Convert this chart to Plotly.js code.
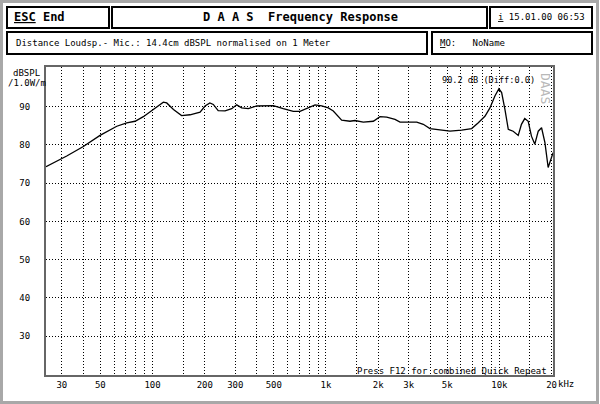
<!DOCTYPE html>
<html>
<head>
<meta charset="utf-8">
<script src="https://cdn.plot.ly/plotly-3.0.1.min.js"></script>
<style>
html,body{margin:0;padding:0;background:#fff;}
#chart{width:600px;height:404px;}
</style>
</head>
<body>
<div id="chart"></div>
<script>
// ---- data ----
const freqHz = [24.3, 32, 39.9, 49.8, 62.2, 71, 79.3, 88.5, 101, 115.4, 120.7, 132, 147, 164.5, 188, 200.7, 214, 224, 239, 262, 286, 305.7, 326.5, 356.6, 398, 455, 497, 567, 648, 708, 774, 865, 945, 1031, 1102, 1178, 1231, 1375, 1469, 1641, 1875, 2049, 2240, 2500, 2673, 3337, 3640, 3975, 4540, 5187, 6056, 6918, 7557, 8250, 8820, 9420, 9935, 10300, 10760, 11250, 12000, 12840, 13400, 14000, 14660, 15300, 16000, 16750, 17500, 18300, 19100, 20000, 20400];
const splDb = [74.3, 77.1, 79.6, 82.5, 84.9, 85.8, 86.2, 87.4, 89.3, 91.2, 91.0, 89.3, 87.7, 87.9, 88.6, 90.2, 91.0, 90.6, 89.0, 88.9, 89.5, 90.5, 89.7, 89.5, 90.2, 90.2, 90.3, 89.5, 88.8, 88.8, 89.5, 90.5, 90.2, 89.7, 88.9, 87.4, 86.5, 86.2, 86.4, 86.0, 86.2, 87.4, 87.3, 86.7, 86.0, 86.0, 85.4, 84.3, 83.9, 83.6, 83.9, 84.3, 85.8, 87.5, 89.7, 92.8, 94.7, 93.7, 89.3, 84.1, 83.6, 82.5, 85.4, 86.9, 86.2, 82.3, 80.2, 83.6, 84.5, 80.6, 74.1, 77.1, 78.0];
const xTickVals = [30,40,50,60,70,80,90,100,150,200,300,400,500,600,700,800,900,1000,1500,2000,3000,4000,5000,6000,7000,8000,9000,10000,15000,20000];
const xTickText = ['30','','50','','','','','100','','200','300','','500','','','','','1k','','2k','3k','','5k','','','','','10k','','20'];
const yTickVals = [30,40,50,60,70,80,90];
const yTickText = ['30','40','50','60','70','80','90'];

// ---- layout helpers (pixel -> paper) ----
const L = 46, T = 67, W = 507, H = 308;
const px = x => (x - L) / W;
const py = y => (T + H - y) / H;
const MONO = 'DejaVu Sans Mono, Liberation Mono, monospace';
const NB = '\u00A0';

function box(x0, y0, x1, y1) {
  return {type:'rect', xref:'paper', yref:'paper', x0:px(x0), x1:px(x1), y0:py(y1), y1:py(y0),
          line:{color:'#000', width:2}, fillcolor:'#fff', layer:'below'};
}
function txt(text, x, y, opt) {
  opt = opt || {};
  return Object.assign({text:text, xref:'paper', yref:'paper', x:px(x), y:py(y),
    xanchor:'left', yanchor:'middle', showarrow:false, borderpad:0,
    font:{family:MONO, size:9, color:'#000'}}, opt);
}

const shapes = [
  {type:'rect', xref:'paper', yref:'paper', x0:px(1.5), x1:px(597.5), y0:py(402.5), y1:py(1.5),
   line:{color:'#a8a8a8', width:3}, layer:'below'},
  box(7, 7, 109, 28),
  box(112, 7, 487, 28),
  box(490, 7, 592, 28),
  box(7, 32, 427, 54),
  box(432, 32, 592, 54)
];

const annotations = [
  txt('<b><u>ESC</u></b>' + NB + '<b>End</b>', 13, 17.5, {font:{family:MONO, size:12, color:'#000'}}),
  txt('<b>D A A S' + NB + NB + 'Frequency Response</b>', 300, 17.5, {xanchor:'center', font:{family:MONO, size:12, color:'#000'}}),
  txt('<u>i</u>' + NB + '15.01.00 06:53', 497, 17.5, {font:{family:MONO, size:9, color:'#000'}}),
  txt('Distance Loudsp.- Mic.: 14.4cm dBSPL normalised on 1 Meter', 15, 43),
  txt('<u>M</u>O:' + NB + NB + NB + 'NoName', 439, 43),
  txt('dBSPL', 12, 73),
  txt('/1.0W/m', 7, 83),
  txt('90.2 dB (Diff:0.0)', 441, 80, {font:{family:MONO, size:8.6, color:'#000'}}),
  txt('DAAS', 546, 88, {xanchor:'center', textangle:90, font:{family:MONO, size:13, color:'#b8b8b8'}}),
  txt('Press F12 for combined Quick Repeat', 356, 371, {font:{family:MONO, size:9, color:'#000'}}),
  txt('kHz', 556.5, 384, {font:{family:MONO, size:9, color:'#000'}})
];

const trace = {
  x: freqHz, y: splDb, type:'scatter', mode:'lines',
  line:{color:'#000', width:1.3}, hoverinfo:'skip'
};

const layout = {
  width:600, height:404,
  margin:{l:L, r:600-L-W, t:T, b:404-T-H, pad:0},
  paper_bgcolor:'#fff', plot_bgcolor:'#fff',
  showlegend:false,
  xaxis:{type:'log', range:[Math.log10(24.3), 4.309], tickmode:'array', tickvals:xTickVals, ticktext:xTickText,
    showgrid:true, gridcolor:'#000', gridwidth:1, griddash:'1px,2px', zeroline:false,
    ticks:'',
    showline:true, mirror:true, linecolor:'#666', linewidth:2,
    tickfont:{family:MONO, size:9, color:'#000'}},
  yaxis:{range:[19.8, 100.4], tickmode:'array', tickvals:yTickVals, ticktext:yTickText,
    showgrid:true, gridcolor:'#000', gridwidth:1, griddash:'1px,2px', zeroline:false,
    ticks:'outside', ticklen:12, tickcolor:'rgba(0,0,0,0)',
    showline:true, mirror:true, linecolor:'#666', linewidth:2,
    tickfont:{family:MONO, size:9, color:'#000'}},
  shapes:shapes,
  annotations:annotations
};

Plotly.newPlot('chart', [trace], layout, {staticPlot:true, displayModeBar:false});
</script>
</body>
</html>
